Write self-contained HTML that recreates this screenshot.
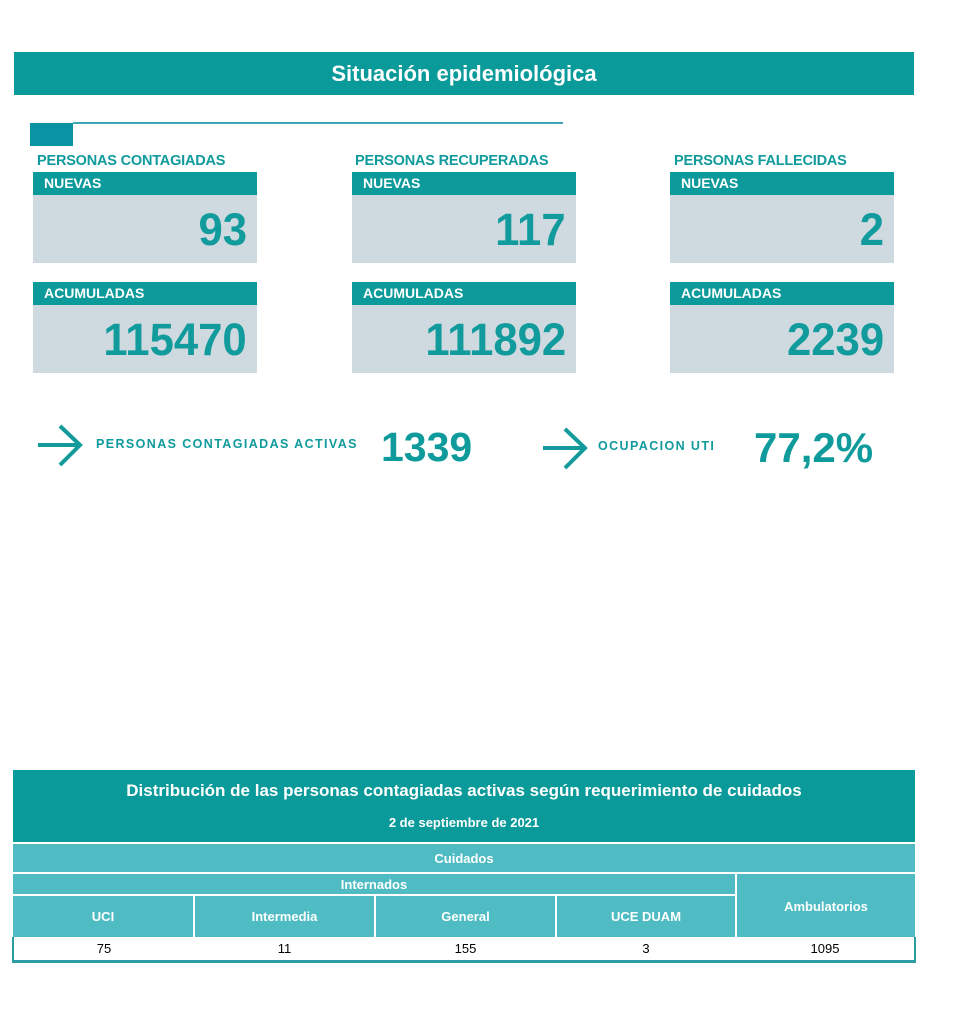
<!DOCTYPE html>
<html><head><meta charset="utf-8"><style>
*{margin:0;padding:0;box-sizing:border-box}
body{width:957px;height:1024px;background:#fff;position:relative;overflow:hidden;font-family:"Liberation Sans",sans-serif}
.a{position:absolute}
.t{color:#0f9a9c;font-weight:bold}
.hd{background:#0c9a9b;color:#fff;font-weight:bold;font-size:14px;padding-left:11px;line-height:23px;height:23px}
.gb{background:#cfd9e0}
.num{position:absolute;right:10px;font-weight:bold;color:#129b9c;font-size:45px;letter-spacing:0px;transform:scaleX(0.97);transform-origin:right}
.lbl{font-size:14.5px;letter-spacing:-0.2px}
table{border-collapse:collapse;position:absolute;left:12px;top:770px;width:904px;font-size:13px}
td{text-align:center;color:#fff;font-weight:bold}
</style></head><body>
<div class="a" style="left:14px;top:52px;width:900px;height:43px;background:#0a9a9a"></div>
<div class="a" style="left:14px;top:52px;width:900px;height:43px;line-height:43px;text-align:center;color:#fff;font-weight:bold;font-size:22px">Situación epidemiológica</div>
<div class="a" style="left:30px;top:123px;width:43px;height:23px;background:#0a93a2"></div>
<div class="a" style="left:73px;top:122px;width:490px;height:2px;background:#3da7b5"></div>

<div class="a t lbl" style="left:37px;top:153px">PERSONAS CONTAGIADAS</div>
<div class="a t lbl" style="left:355px;top:153px">PERSONAS RECUPERADAS</div>
<div class="a t lbl" style="left:674px;top:153px">PERSONAS FALLECIDAS</div>

<div class="a hd" style="left:33px;top:172px;width:224px">NUEVAS</div>
<div class="a gb" style="left:33px;top:195px;width:224px;height:68px"><div class="num" style="top:9px">93</div></div>
<div class="a hd" style="left:352px;top:172px;width:224px">NUEVAS</div>
<div class="a gb" style="left:352px;top:195px;width:224px;height:68px"><div class="num" style="top:9px">117</div></div>
<div class="a hd" style="left:670px;top:172px;width:224px">NUEVAS</div>
<div class="a gb" style="left:670px;top:195px;width:224px;height:68px"><div class="num" style="top:9px">2</div></div>

<div class="a hd" style="left:33px;top:282px;width:224px">ACUMULADAS</div>
<div class="a gb" style="left:33px;top:305px;width:224px;height:68px"><div class="num" style="top:9px">115470</div></div>
<div class="a hd" style="left:352px;top:282px;width:224px">ACUMULADAS</div>
<div class="a gb" style="left:352px;top:305px;width:224px;height:68px"><div class="num" style="top:9px">111892</div></div>
<div class="a hd" style="left:670px;top:282px;width:224px">ACUMULADAS</div>
<div class="a gb" style="left:670px;top:305px;width:224px;height:68px"><div class="num" style="top:9px">2239</div></div>

<svg class="a" style="left:36px;top:423px" width="50" height="46"><path d="M2 22 H44 M24 3 L44 22 L24 42" stroke="#139b9c" stroke-width="4" fill="none"/></svg>
<div class="a t" style="left:96px;top:437px;font-size:12.5px;letter-spacing:1.4px">PERSONAS CONTAGIADAS ACTIVAS</div>
<div class="a t" style="left:381px;top:424px;font-size:41px">1339</div>
<svg class="a" style="left:541px;top:426px" width="50" height="46"><path d="M2 22 H44 M24 3 L44 22 L24 42" stroke="#139b9c" stroke-width="4" fill="none"/></svg>
<div class="a t" style="left:598px;top:439px;font-size:12.5px;letter-spacing:1.4px">OCUPACION UTI</div>
<div class="a t" style="left:754px;top:424px;font-size:42px">77,2%</div>

<table>
<tr style="background:#0b9a9a;height:73px;border-bottom:2px solid #fff"><td colspan="5" style="vertical-align:top"><div style="font-size:17px;margin-top:11px">Distribución de las personas contagiadas activas según requerimiento de cuidados</div><div style="font-size:13px;margin-top:14px">2 de septiembre de 2021</div></td></tr>
<tr style="background:#4fbcc3;height:30px;border-bottom:2px solid #fff"><td colspan="5">Cuidados</td></tr>
<tr style="background:#4fbcc3;height:22px;border-bottom:2px solid #fff"><td colspan="4" style="border-right:2px solid #fff">Internados</td><td rowspan="2" style="padding-top:2px">Ambulatorios</td></tr>
<tr style="background:#4fbcc3;height:42px"><td style="border-right:2px solid #fff;width:181px">UCI</td><td style="border-right:2px solid #fff;width:181px">Intermedia</td><td style="border-right:2px solid #fff;width:181px">General</td><td style="border-right:2px solid #fff;width:180px">UCE DUAM</td></tr>
<tr style="height:24px;background:#fff"><td style="color:#000;font-weight:normal;border-left:2px solid #2a9ea3;border-bottom:3px solid #2a9ea3">75</td><td style="color:#000;font-weight:normal;border-bottom:3px solid #2a9ea3">11</td><td style="color:#000;font-weight:normal;border-bottom:3px solid #2a9ea3">155</td><td style="color:#000;font-weight:normal;border-bottom:3px solid #2a9ea3">3</td><td style="color:#000;font-weight:normal;border-right:2px solid #2a9ea3;border-bottom:3px solid #2a9ea3">1095</td></tr>
</table>
</body></html>
